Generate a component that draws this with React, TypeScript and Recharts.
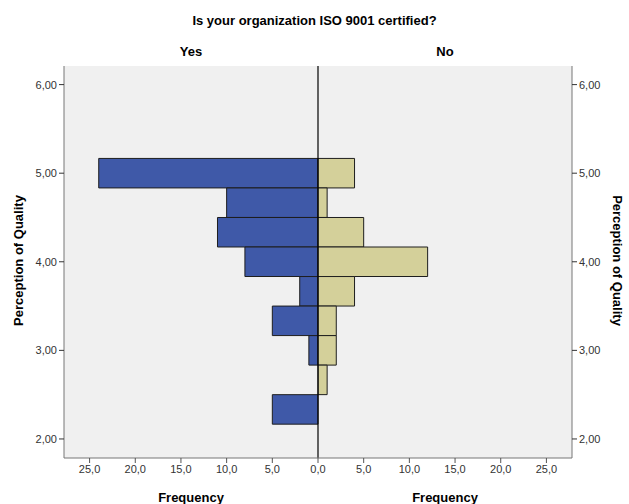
import React from 'react';
import { ComposedChart, Bar, XAxis, YAxis, CartesianGrid, ReferenceLine } from 'recharts';

const bins = [5.0, 4.6667, 4.3333, 4.0, 3.6667, 3.3333, 3.0, 2.6667, 2.3333];
const yesCounts = [24, 10, 11, 8, 2, 5, 1, 0, 5];
const noCounts = [4, 1, 5, 12, 4, 2, 2, 1, 0];
const yTicks = [2, 3, 4, 5, 6];
const xTicks = [-25, -20, -15, -10, -5, 0, 5, 10, 15, 20, 25];

const data = bins.map((b, i) => ({ bin: b, yes: -yesCounts[i], no: noCounts[i] }));

const FONT = '"Liberation Sans", Arial, sans-serif';
const fmtX = (v: number) => Math.abs(v).toFixed(1).replace('.', ',');
const fmtY = (v: number) => v.toFixed(2).replace('.', ',');

const tickStyle = { fontSize: 11, fill: '#333', fontFamily: FONT };

export default function App() {
  return (
    <div style={{ position: 'absolute', left: 0, top: 0, width: 629, height: 504, background: '#fff', overflow: 'hidden', fontFamily: FONT }}>
      <ComposedChart
        width={629}
        height={504}
        data={data}
        layout="vertical"
        stackOffset="sign"
        barCategoryGap={0}
        margin={{ top: 66, right: 7, bottom: 16, left: 14 }}
      >
        <CartesianGrid fill="#f0f0f0" horizontal={false} vertical={false} />
        <XAxis
          type="number"
          domain={[-27.8, 27.8]}
          ticks={xTicks}
          tickFormatter={fmtX}
          allowDataOverflow
          height={30}
          tick={tickStyle}
          tickSize={5}
          axisLine={{ stroke: '#777' }}
          tickLine={{ stroke: '#555' }}
        />
        <XAxis
          xAxisId="top"
          orientation="top"
          type="number"
          domain={[-27.8, 27.8]}
          height={0}
          tick={false}
          tickLine={false}
          axisLine={{ stroke: '#777' }}
        />
        <YAxis
          yAxisId={0}
          type="number"
          dataKey="bin"
          domain={[1.785, 6.21]}
          ticks={yTicks}
          tickFormatter={fmtY}
          allowDataOverflow
          reversed
          width={50}
          tick={tickStyle}
          tickSize={5}
          axisLine={{ stroke: '#777' }}
          tickLine={{ stroke: '#333' }}
        />
        <YAxis
          yAxisId="right"
          orientation="right"
          type="number"
          dataKey="bin"
          domain={[1.785, 6.21]}
          ticks={yTicks}
          tickFormatter={fmtY}
          allowDataOverflow
          reversed
          width={50}
          tick={tickStyle}
          tickSize={5}
          axisLine={{ stroke: '#777' }}
          tickLine={{ stroke: '#333' }}
        />
        <Bar dataKey="yes" stackId="a" fill="#3f59a8" stroke="#1e1e1e" strokeWidth={1} barSize={29.5} isAnimationActive={false} />
        <Bar dataKey="no" stackId="a" fill="#d4d09a" stroke="#1e1e1e" strokeWidth={1} barSize={29.5} isAnimationActive={false} />
        <ReferenceLine x={0} stroke="#000" strokeWidth={1.2} />
      </ComposedChart>
      <div style={{ position: 'absolute', left: 0, width: 629, top: 13, textAlign: 'center', fontSize: 13, fontWeight: 'bold', color: '#000' }}>
        Is your organization ISO 9001 certified?
      </div>
      <div style={{ position: 'absolute', left: 91, width: 200, top: 44, textAlign: 'center', fontSize: 13, fontWeight: 'bold' }}>Yes</div>
      <div style={{ position: 'absolute', left: 345, width: 200, top: 44, textAlign: 'center', fontSize: 13, fontWeight: 'bold' }}>No</div>
      <div style={{ position: 'absolute', left: 91, width: 200, top: 490, textAlign: 'center', fontSize: 13, fontWeight: 'bold' }}>Frequency</div>
      <div style={{ position: 'absolute', left: 345, width: 200, top: 490, textAlign: 'center', fontSize: 13, fontWeight: 'bold' }}>Frequency</div>
      <div style={{ position: 'absolute', left: 18 - 100, top: 262 - 9, width: 200, textAlign: 'center', fontSize: 13, fontWeight: 'bold', transform: 'rotate(-90deg)' }}>Perception of Quality</div>
      <div style={{ position: 'absolute', left: 617 - 100, top: 262 - 9, width: 200, textAlign: 'center', fontSize: 13, fontWeight: 'bold', transform: 'rotate(90deg)' }}>Perception of Quality</div>
    </div>
  );
}
